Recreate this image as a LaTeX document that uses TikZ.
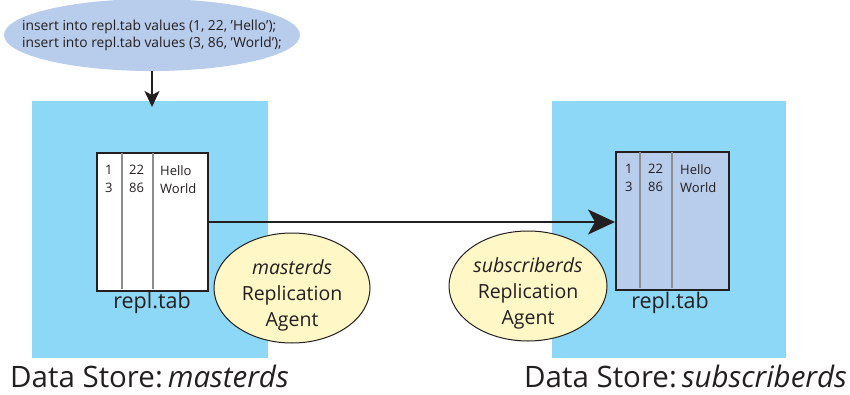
\documentclass[tikz,border=0pt]{standalone}
\usepackage{fontspec}
\setmainfont{Open Sans}
\usetikzlibrary{shapes.geometric,arrows.meta}
\definecolor{storeblue}{HTML}{8DD8F6}
\definecolor{cmdblue}{HTML}{B8CCEB}
\definecolor{tabblue}{HTML}{B8CCEB}
\definecolor{agentyellow}{HTML}{FFF8C6}
\definecolor{ink}{HTML}{231F20}
\tikzset{
  store/.style={fill=storeblue,draw=none},
  tabbox/.style={draw=ink,line width=1.6pt},
  colline/.style={draw=gray!90,line width=1.2pt},
  agent/.style={ellipse,draw=ink,line width=1pt,fill=agentyellow,minimum width=156pt,minimum height=110pt,inner sep=0pt},
  agenttext/.style={align=center,inner sep=0pt,font=\fontsize{19.5}{26}\selectfont,text=ink},
  cell/.style={anchor=north west,inner sep=0pt,align=left,font=\fontsize{13}{18}\selectfont,text=ink},
  lbl/.style={font=\fontsize{21.5}{24}\selectfont,text=ink},
  big/.style={font=\fontsize{29.5}{32}\selectfont,text=ink,anchor=base west,inner sep=0pt},
  arr/.style={draw=ink,line width=1.8pt,-{Stealth[length=27pt,width=25pt,inset=7pt]}},
}
\begin{document}
\begin{tikzpicture}[x=1pt,y=-1pt]
\useasboundingbox (0,0) rectangle (850,395);
% data stores
\fill[store] (32,101) rectangle (268,358);
\fill[store] (552,101) rectangle (786,358);
% command ellipse
\node[ellipse,fill=cmdblue,minimum width=296pt,minimum height=72pt,inner sep=0pt] (cmd) at (152,35) {};
\node[align=left,inner sep=0pt,font=\fontsize{13.8}{17}\selectfont,text=ink] (cmdtext) at (152,35) {insert into repl.tab values (1, 22, 'Hello');\\insert into repl.tab values (3, 86, 'World');};
\coordinate (storetop) at (152,107);
\draw[draw=ink,line width=1.5pt,-{Stealth[length=16pt,width=15pt,inset=4pt]}] (cmd.south) -- (storetop);
% left table
\node[tabbox,fill=white,minimum width=111pt,minimum height=138pt,inner sep=0pt,anchor=north west] (ltab) at (96,152) {};
\draw[colline] (122,153) -- (122,289);
\draw[colline] (153,153) -- (153,289);
\node[cell] (l1) at (105,165) {1\\3};
\node[cell] (l2) at (129,165) {22\\86};
\node[cell] (l3) at (160,165) {Hello\\World};
\node[lbl] (llbl) at (152,303) {repl.tab};
% right table
\node[tabbox,fill=tabblue,minimum width=113pt,minimum height=138pt,inner sep=0pt,anchor=north west] (rtab) at (615,151) {};
\draw[colline] (640,152) -- (640,288);
\draw[colline] (672,152) -- (672,288);
\node[cell] (r1) at (625,164) {1\\3};
\node[cell] (r2) at (648,164) {22\\86};
\node[cell] (r3) at (680,164) {Hello\\World};
\node[lbl] (rlbl) at (670,303) {repl.tab};
% replication arrow
\draw[arr] (ltab.east |- 0,222) -- (rtab.west |- 0,222);
% agents
\node[agent] (ma) at (292,288) {};
\node[agenttext] (mat) at (292,295) {\textit{masterds}\\Replication\\Agent};
\node[agent,minimum width=158pt] (sa) at (528,286) {};
\node[agenttext] (sat) at (528,293) {\textit{subscriberds}\\Replication\\Agent};
% captions
\node[big] (lcap) at (10,387) {Data Store:\,\textit{masterds}};
\node[big] (rcap) at (524,387) {Data Store:\,\textit{subscriberds}};
\end{tikzpicture}
\end{document}
